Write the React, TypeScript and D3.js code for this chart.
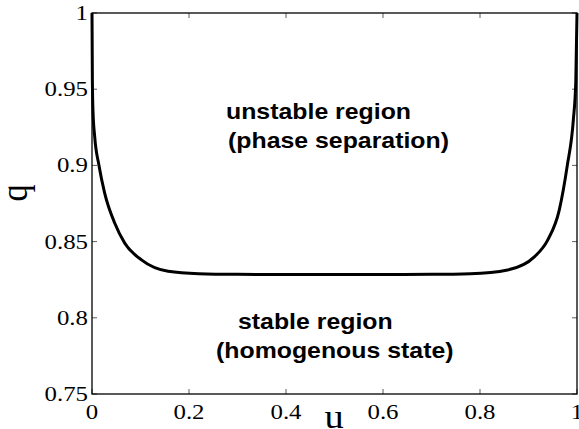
import React from 'react';
import * as d3 from 'd3';

// spinodal curve
const uValues = [0, 0.0008, 0.002, 0.0055, 0.0144, 0.026, 0.047, 0.0675, 0.102, 0.157, 0.22, 0.3, 0.4, 0.5, 0.6, 0.7, 0.78, 0.857, 0.912, 0.9395, 0.9634, 0.98, 0.9925, 0.9975, 1];
const qValues = [1.0, 0.955, 0.936, 0.919, 0.9, 0.882, 0.862, 0.849, 0.838, 0.8305, 0.8289, 0.8285, 0.8284, 0.8284, 0.8284, 0.8285, 0.8289, 0.8314, 0.84, 0.851, 0.8707, 0.9, 0.93, 0.955, 1.0];

const xTicks = [0, 0.2, 0.4, 0.6, 0.8, 1];
const yTicks = [0.75, 0.8, 0.85, 0.9, 0.95, 1];

const upperLines = ['unstable region', '(phase separation)'];
const lowerLines = ['stable region', '(homogenous state)'];

const W = 579;
const H = 429;
const margin = { left: 92, right: 2, top: 13, bottom: 35 };
const SX = 1.13; // the original figure is stretched a little horizontally

const serif = '"Liberation Serif", "Times New Roman", serif';
const sans = '"Liberation Sans", Arial, sans-serif';

const fmt = (v: number) => (v === 0 || v === 1 ? String(v) : String(+v.toFixed(2)));

const App: React.FC = () => {
  const x = d3.scaleLinear().domain([0, 1]).range([margin.left, W - margin.right]);
  const y = d3.scaleLinear().domain([0.75, 1]).range([H - margin.bottom, margin.top]);

  const line = d3.line<number>()
    .x((_, i) => x(uValues[i]))
    .y(d => y(d))
    .curve(d3.curveMonotoneX);

  const [x0, x1] = x.range();
  const [y0, y1] = y.range();
  const tickLen = 5;

  return (
    <svg width={W} height={H} style={{ position: 'absolute', left: 0, top: 0, background: '#fff' }}>
      {/* ticks on all four sides, pointing in */}
      {xTicks.map(t => (
        <g key={'xt' + t} stroke="#333" strokeWidth={0.8}>
          <line x1={x(t)} x2={x(t)} y1={y0} y2={y0 - tickLen} />
          <line x1={x(t)} x2={x(t)} y1={y1} y2={y1 + tickLen} />
        </g>
      ))}
      {yTicks.map(t => (
        <g key={'yt' + t} stroke="#333" strokeWidth={0.8}>
          <line x1={x0} x2={x0 + tickLen} y1={y(t)} y2={y(t)} />
          <line x1={x1} x2={x1 - tickLen} y1={y(t)} y2={y(t)} />
        </g>
      ))}

      <rect x={x0} y={y1} width={x1 - x0} height={y0 - y1} fill="none" stroke="#000" strokeWidth={1.3} />

      <path d={line(qValues) || ''} fill="none" stroke="#000" strokeWidth={3} />

      {/* tick labels */}
      {xTicks.map(t => (
        <text key={'xl' + t} transform={`translate(${x(t)},${y0 + 25}) scale(${SX},1)`}
          textAnchor="middle" fontFamily={serif} fontSize={22} fill="#000">{fmt(t)}</text>
      ))}
      {yTicks.map(t => (
        <text key={'yl' + t} transform={`translate(${x0 - 4},${y(t) + 7}) scale(${SX},1)`}
          textAnchor="end" fontFamily={serif} fontSize={22} fill="#000">{fmt(t)}</text>
      ))}

      {/* axis labels */}
      <text transform={`translate(334,428) scale(${SX},1)`} textAnchor="middle"
        fontFamily={serif} fontSize={34} fill="#000">u</text>
      <text transform={`translate(27,193) scale(${SX},1) rotate(-90)`} textAnchor="middle"
        fontFamily={serif} fontSize={34} fill="#000">q</text>

      {/* region annotations */}
      {upperLines.map((s, i) => (
        <text key={s} transform={`translate(${i === 0 ? 226 : 228},${119 + i * 29}) scale(${SX},1)`}
          fontFamily={sans} fontWeight="bold" fontSize={22} fill="#000">{s}</text>
      ))}
      {lowerLines.map((s, i) => (
        <text key={s} transform={`translate(${i === 0 ? 238 : 216},${329 + i * 29}) scale(${SX},1)`}
          fontFamily={sans} fontWeight="bold" fontSize={22} fill="#000">{s}</text>
      ))}
    </svg>
  );
};

export default App;
